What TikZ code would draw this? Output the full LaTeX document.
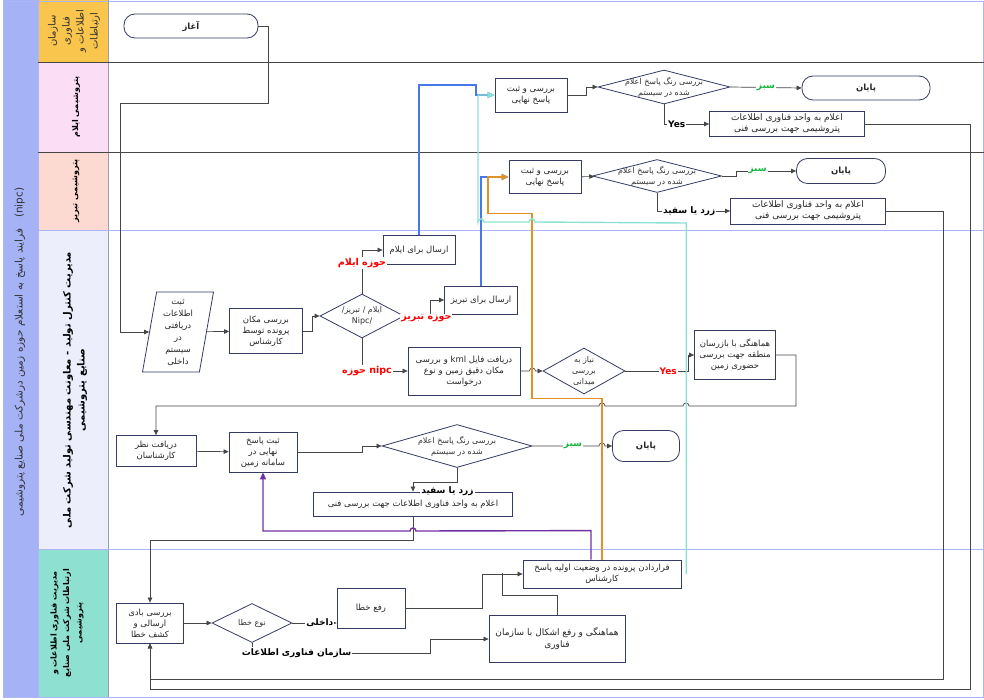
\documentclass[tikz,border=0pt]{standalone}
\usepackage{fontspec}
\setmainfont{DejaVu Sans}
\usepackage{tikz}
\usetikzlibrary{arrows.meta,shapes.geometric}
\newfontfamily\arabicfont[Script=Arabic]{DejaVu Sans}
\TeXXeTstate=1
\newcommand{\fa}[1]{{\arabicfont\beginR #1\endR}}
\definecolor{titlebg}{RGB}{166,178,246}
\definecolor{itbg}{RGB}{249,197,76}
\definecolor{ilambg}{RGB}{251,222,246}
\definecolor{tabrizbg}{RGB}{252,218,210}
\definecolor{nipcbg}{RGB}{236,238,252}
\definecolor{itmbg}{RGB}{142,224,208}
\definecolor{lanel}{RGB}{170,182,245}
\definecolor{edge}{RGB}{52,60,100}
\definecolor{wire}{RGB}{70,70,70}
\definecolor{blueln}{RGB}{70,120,235}
\definecolor{tealln}{RGB}{140,225,212}
\definecolor{orangeln}{RGB}{225,145,40}
\definecolor{purpleln}{RGB}{112,48,160}
\definecolor{greentx}{RGB}{20,180,60}

\begin{document}
\begin{tikzpicture}[x=1pt, y=-1pt, font=\fontsize{8.5}{11}\selectfont,
  box/.style={draw=edge, fill=white, align=center, inner sep=1.5pt, line width=0.8pt, text=black!85},
  term/.style={box, rounded corners=11pt, font=\fontsize{8.5}{10}\selectfont\bfseries},
  dia/.style={diamond, draw=edge, fill=white, inner sep=0pt, line width=0.8pt},
  dtxt/.style={align=center, font=\fontsize{8}{11}\selectfont, text=black!80},
  arr/.style={-{Triangle[length=5pt, width=4.5pt]}, draw=wire, line width=0.7pt},
  cln/.style={line width=1.4pt, -{Triangle[length=7pt, width=6pt]}},
  lab/.style={font=\fontsize{9}{10}\selectfont\bfseries, inner sep=1pt, fill=white},
  hdr/.style={rotate=90, align=center}]
\useasboundingbox (0,0) rectangle (984,700);
% lanes
\fill[white] (0,0) rectangle (984,700);
\fill[titlebg] (3,0) rectangle (38,697);
\fill[itbg] (38,0) rectangle (108,62);
\fill[ilambg] (38,62) rectangle (108,152);
\fill[tabrizbg] (38,152) rectangle (108,230);
\fill[nipcbg] (38,230) rectangle (108,549);
\fill[itmbg] (38,549) rectangle (108,697);
\draw[lanel] (3,1) rectangle (983,697);
\draw[lanel] (38,0) -- (38,697);
\draw[edge!50] (108,0) -- (108,697);
\draw[wire, line width=0.8pt] (38,62) -- (984,62) (38,152) -- (984,152);
\draw[lanel, line width=0.8pt] (38,230) -- (984,230) (38,549) -- (984,549);
\node[hdr, font=\fontsize{10.5}{14}\selectfont, text=black!80] (ttl) at (20,352) {\fa{\beginL(nipc)\endL\quad فرایند پاسخ به استعلام حوزه زمین درشرکت ملی صنایع پتروشیمی}};
\node[hdr, font=\fontsize{10}{14}\selectfont, text=black!80] (h1) at (74,31) {\fa{سازمان}\\\fa{فناوری}\\\fa{اطلاعات و}\\\fa{ارتباطات}};
\node[hdr, font=\fontsize{8}{9}\selectfont\bfseries] (h2) at (76,107) {\fa{پتروشیمی ایلام}};
\node[hdr, font=\fontsize{8}{9}\selectfont\bfseries] (h3) at (76,191) {\fa{پتروشیمی تبریز}};
\node[hdr, font=\fontsize{10}{14}\selectfont\bfseries] (h4) at (75,390) {\fa{مدیریت کنترل تولید - معاونت مهندسی تولید شرکت ملی}\\\fa{صنایع پتروشیمی}};
\node[hdr, font=\fontsize{8}{12.5}\selectfont\bfseries] (h5) at (67,623) {\fa{مدیریت فناوری اطلاعات و}\\\fa{ارتباطات شرکت ملی صنایع}\\\fa{پتروشیمی}};

% lane 1
\node[term, minimum width=134, minimum height=24] (start) at (191,26) {\fa{آغاز}};

% lane 2
\node[box, minimum width=72, minimum height=34] (ilamreg) at (531,95) {\fa{بررسی و ثبت}\\\fa{پاسخ نهایی}};
\node[dia, minimum width=132, minimum height=34, label={[dtxt]center:{\fa{بررسی رنگ پاسخ اعلام}\\\fa{شده در سیستم}}}] (ilamchk) at (664,87) {};
\node[term, minimum width=128, minimum height=24] (ilamend) at (866,88) {\fa{پایان}};
\node[box, minimum width=155, minimum height=25, font=\fontsize{9}{11}\selectfont] (ilamit) at (787,124) {\fa{اعلام به واحد فناوری اطلاعات}\\\fa{پتروشیمی جهت بررسی فنی}};

% lane 3
\node[box, minimum width=72, minimum height=33] (tabreg) at (545,177) {\fa{بررسی و ثبت}\\\fa{پاسخ نهایی}};
\node[dia, minimum width=129, minimum height=33, label={[dtxt]center:{\fa{بررسی رنگ پاسخ اعلام}\\\fa{شده در سیستم}}}] (tabchk) at (657,176) {};
\node[term, minimum width=89, minimum height=25] (tabend) at (841,171) {\fa{پایان}};
\node[box, minimum width=155, minimum height=26, font=\fontsize{9}{11}\selectfont] (tabit) at (808,211) {\fa{اعلام به واحد فناوری اطلاعات}\\\fa{پتروشیمی جهت بررسی فنی}};

% lane 4
\node[trapezium, draw=edge, fill=white, line width=0.8pt, trapezium left angle=78, trapezium right angle=102, trapezium stretches body, minimum width=71, minimum height=80, inner sep=0pt, align=center, text=black!85, font=\fontsize{8.5}{12}\selectfont] (recv) at (178,332) {\fa{ثبت}\\\fa{اطلاعات}\\\fa{دریافتی}\\\fa{در}\\\fa{سیستم}\\\fa{داخلی}};
\node[box, minimum width=73, minimum height=45] (loc) at (266,331) {\fa{بررسی مکان}\\\fa{پرونده توسط}\\\fa{کارشناس}};
\node[dia, minimum width=84, minimum height=44, label={[dtxt]center:{\fa{ایلام / تبریز/}\\Nipc/}}] (zone) at (362,316) {};
\node[box, minimum width=72, minimum height=29] (toilam) at (419,250) {\fa{ارسال برای ایلام}};
\node[box, minimum width=73, minimum height=28] (totabriz) at (481,300) {\fa{ارسال برای تبریز}};
\node[box, minimum width=112, minimum height=48] (kml) at (464,371) {\fa{دریافت فایل \beginL kml\endL{} و بررسی}\\\fa{مکان دقیق زمین و نوع}\\\fa{درخواست}};
\node[dia, minimum width=82, minimum height=46, label={[dtxt]center:{\fa{نیاز به}\\\fa{بررسی}\\\fa{میدانی}}}] (field) at (584,371) {};
\node[box, minimum width=81, minimum height=49] (insp) at (735,355) {\fa{هماهنگی با بازرسان}\\\fa{منطقه جهت بررسی}\\\fa{حضوری زمین}};
\node[box, minimum width=80, minimum height=31] (experts) at (156,451) {\fa{دریافت نظر}\\\fa{کارشناسان}};
\node[box, minimum width=68, minimum height=40] (final) at (263,452) {\fa{ثبت پاسخ}\\\fa{نهایی در}\\\fa{سامانه زمین}};
\node[dia, minimum width=150, minimum height=43, label={[dtxt]center:{\fa{بررسی رنگ پاسخ اعلام}\\\fa{شده در سیستم}}}] (color) at (457,446) {};
\node[term, minimum width=67, minimum height=31] (end) at (646,446) {\fa{پایان}};
\node[box, minimum width=199, minimum height=24, font=\fontsize{8.5}{10}\selectfont] (notify) at (413,504) {\fa{اعلام به واحد فناوری اطلاعات جهت بررسی فنی}};

% lane 5
\node[box, minimum width=67, minimum height=40] (scan) at (150,623) {\fa{بررسی بادی}\\\fa{ارسالی و}\\\fa{کشف خطا}};
\node[dia, minimum width=80, minimum height=39, label={[dtxt]center:{\fa{نوع خطا}}}] (errtype) at (252,623) {};
\node[box, minimum width=68, minimum height=40] (fix) at (371,608) {\fa{رفع خطا}};
\node[box, minimum width=136, minimum height=47, font=\fontsize{9}{12}\selectfont] (coord) at (557,639) {\fa{هماهنگی و رفع اشکال با سازمان}\\\fa{فناوری}};
\node[box, minimum width=158, minimum height=28, font=\fontsize{8.5}{11}\selectfont] (reset) at (602,574) {\fa{قراردادن پرونده در وضعیت اولیه پاسخ}\\\fa{کارشناس}};

% connectors
\draw[arr] (start.east) -- ++(10,0) |- (120,103) |- (recv.west);
\draw[arr] (recv) -- (loc);
\draw[arr] (loc.east) -- ++(9,0) |- (zone.west);
\draw[arr] (zone.north) |- node[lab, text=red, pos=0.35, font=\fontsize{9.5}{10}\selectfont\bfseries]{\fa{حوزه ایلام}} (toilam.west);
\draw[arr] (zone.east) -- ++(26,0) node[lab, text=red, xshift=-4pt, yshift=-2pt, font=\fontsize{9.5}{10}\selectfont\bfseries]{\fa{حوزه تبریز}} |- (totabriz.west);
\draw[arr] (zone.south) |- node[lab, text=red, pos=0.5, xshift=5pt, font=\fontsize{9.5}{10}\selectfont\bfseries]{\fa{\beginL nipc\endL{} حوزه}} (kml.west);
\draw[arr] (kml.east) -- ++(9,0) arc[start angle=180, end angle=0, radius=3pt] -- (field.west);
\draw[arr] (field.east) -- node[lab, text=red, pos=0.68]{Yes} ++(63,0) |- (insp.west);
\draw[arr] (insp.east) -- ++(20,0) -- ++(0,51) -- (689,406) arc[start angle=0, end angle=180, radius=3pt] -- (605,406) arc[start angle=0, end angle=180, radius=3pt] -| (experts.north);
\draw[arr] (experts) -- (final);
\draw[arr] (final.east) -- ++(65,0) |- (color.west);
\draw[arr] (color.east) -- node[lab, text=greentx, pos=0.61]{\fa{سبز}} (599,446) arc[start angle=180, end angle=0, radius=3pt] -- (end.west);
\draw[arr] (color.south) -- ++(0,14) -| node[lab, pos=1, anchor=west, xshift=7pt]{\fa{زرد یا سفید}} (notify.north);
\draw[arr] (notify.south) -- ++(0,24) -| (scan.north);
\draw[arr] (ilamreg.east) -- ++(19,0) |- (ilamchk.west);
\draw[arr] (ilamchk.east) -- node[lab, text=greentx]{\fa{سبز}} (ilamend.west);
\draw[arr] (ilamchk.south) |- node[lab, pos=0.64]{Yes} (ilamit.west);
\draw[arr] (tabreg) -- (tabchk);
\draw[arr] (tabchk.east) -- ++(14,0) |- node[lab, text=greentx, pos=0.68]{\fa{سبز}} (tabend.west);
\draw[arr] (tabchk.south) |- node[lab, pos=0.72]{\fa{زرد یا سفید}} (tabit.west);
\draw[arr] (ilamit.east) -| ++(105,565) -| (scan.south);
\draw[arr] (tabit.east) -| ++(57,468) -| (scan.south);
\draw[arr] (scan) -- (errtype);
\draw[arr] (errtype.east) -- node[lab, pos=0.62]{\fa{داخلی}} (fix.west |- errtype.east);
\draw[arr] (errtype.south) -- ++(0,10) -- node[lab, pos=0.25]{\fa{سازمان فناوری اطلاعات}} ++(178,0) |- (coord.west);
\draw[arr] (fix.east) -- ++(77,0) |- (reset.west);
\draw[wire, line width=0.7pt] (coord.north) -- ++(0,-20) -- ++(-55,0) -- ++(0,-22);
% coloured returns
\draw[blueln, cln] (toilam.north) -- ++(0,-150) -- ++(57,0) |- (ilamreg.west);
\draw[blueln, cln] (totabriz.north) |- (tabreg.west);
\draw[orangeln, cln] (reset.north) -- ++(0,-161) -- ++(-70,0) -- ++(0,-185) -- ++(-44,0) |- (tabreg.west);
\draw[tealln, cln] ([xshift=5pt]reset.east) -- ++(0,-351) -- (535,222) arc[start angle=0, end angle=180, radius=3pt] -- (484,222) arc[start angle=0, end angle=180, radius=3pt] |- (ilamreg.west);
\draw[purpleln, cln] ([xshift=-11pt]reset.north) -- ++(0,-29) -- (416,531) arc[start angle=0, end angle=180, radius=3pt] -| (final.south);
\end{tikzpicture}
\end{document}
